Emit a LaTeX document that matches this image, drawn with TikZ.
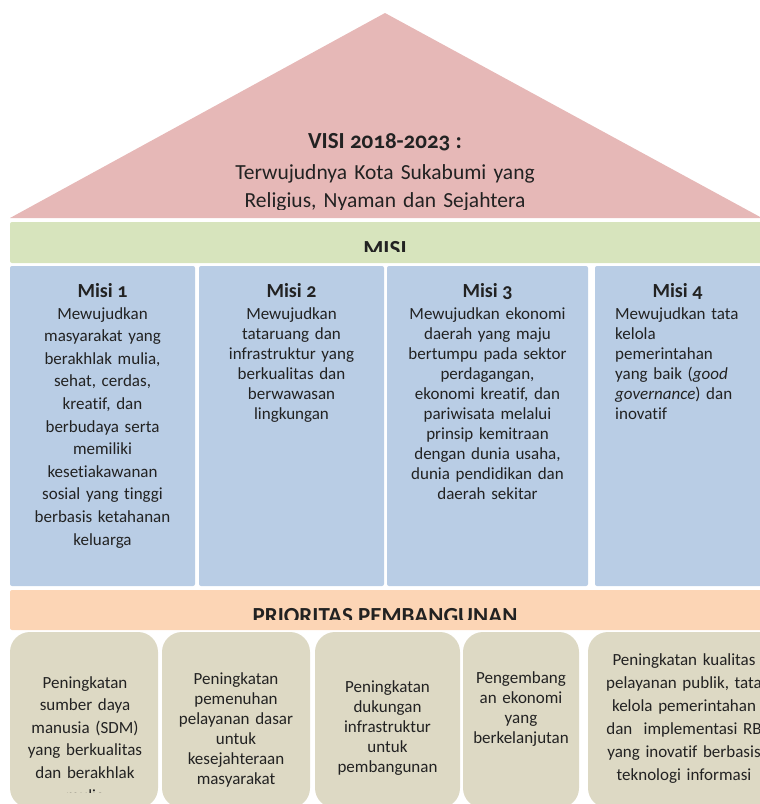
\documentclass[tikz,border=0pt]{standalone}
\usepackage{fontspec}
\setmainfont{Carlito}[Numbers=OldStyle, Ligatures=NoCommon]
\usetikzlibrary{positioning}
\definecolor{roof}{HTML}{E6B8B7}
\definecolor{misigreen}{HTML}{D7E4BD}
\definecolor{misiblue}{HTML}{B9CDE5}
\definecolor{priopeach}{HTML}{FCD5B5}
\definecolor{priotan}{HTML}{DDD9C4}
\definecolor{ink}{HTML}{222222}

\begin{document}
\begin{tikzpicture}[x=1pt, y=-1pt, text=ink,
  slab/.style={anchor=north west, inner sep=0, outer sep=0, rounded corners=2pt, minimum height=#1pt},
  misibox/.style={slab=320, fill=misiblue},
  priobox/.style={slab=176, fill=priotan, rounded corners=20pt},
  title/.style={font=\bfseries\fontsize{23}{27}\selectfont, anchor=base, inner sep=0},
  misihead/.style={font=\bfseries\fontsize{20}{24}\selectfont, anchor=base, inner sep=0},
  body/.style={font=\fontsize{17}{20}\selectfont, anchor=base, align=center, text width=220pt, inner sep=0},
  loose/.style={font=\fontsize{17}{22.6}\selectfont}]
  \useasboundingbox (0,0) rectangle (760,804);

  % roof with the vision
  \fill[roof] (10,218) -- (385,13) -- (762,218) -- cycle;
  \begin{scope}
    \clip (0,0) rectangle (760,209);
    \node[title] (visi) at (385,148) {VISI 2018-2023 :};
    \node[body, font=\fontsize{21.5}{28}\selectfont, text width=400pt] (visitext) at (385,179)
      {Terwujudnya Kota Sukabumi yang\\Religius, Nyaman dan Sejahtera};
  \end{scope}

  % mission band
  \node[slab=41, fill=misigreen, minimum width=755pt] (misiband) at (10,222) {};
  \begin{scope}
    \clip (0,222) rectangle (760,251);
    \node[title] (misilabel) at (385,256) {MISI};
  \end{scope}

  \node[misibox, minimum width=185pt] (m1) at (10,266) {};
  \node[misibox, minimum width=185pt] (m2) at (199,266) {};
  \node[misibox, minimum width=201pt] (m3) at (387,266) {};
  \node[misibox, minimum width=170pt] (m4) at (595,266) {};

  \node[misihead] (m1head) at (102.5,297) {Misi 1};
  \node[misihead] (m2head) at (291.5,297) {Misi 2};
  \node[misihead] (m3head) at (487.5,297) {Misi 3};
  \node[misihead] (m4head) at (677.5,297) {Misi 4};

  \node[body, loose] (m1text) at (102.5,319) {Mewujudkan\\masyarakat yang\\berakhlak mulia,\\sehat, cerdas,\\kreatif, dan\\berbudaya serta\\memiliki\\kesetiakawanan\\sosial yang tinggi\\berbasis ketahanan\\keluarga};
  \node[body] (m2text) at (291.5,319) {Mewujudkan\\tataruang dan\\infrastruktur yang\\berkualitas dan\\berwawasan\\lingkungan};
  \node[body] (m3text) at (487.5,319) {Mewujudkan ekonomi\\daerah yang maju\\bertumpu pada sektor\\perdagangan,\\ekonomi kreatif, dan\\pariwisata melalui\\prinsip kemitraan\\dengan dunia usaha,\\dunia pendidikan dan\\daerah sekitar};
  \node[body, align=left, text width=140pt, anchor=base west] (m4text) at (615,319) {Mewujudkan tata\\kelola\\pemerintahan\\yang baik (\textit{good}\\\textit{governance}) dan\\inovatif};

  % development priorities
  \node[slab=40, fill=priopeach, minimum width=755pt] (prioband) at (10,590) {};
  \begin{scope}
    \clip (0,590) rectangle (760,619);
    \node[title] (priolabel) at (385,623) {PRIORITAS PEMBANGUNAN};
  \end{scope}

  \node[priobox, minimum width=148pt] (p1) at (10,632) {};
  \node[priobox, minimum width=148pt] (p2) at (162,632) {};
  \node[priobox, minimum width=145pt] (p3) at (315,632) {};
  \node[priobox, minimum width=116pt] (p4) at (463,632) {};
  \node[priobox, minimum width=192pt] (p5) at (588,632) {};

  \begin{scope}
    \clip (0,632) rectangle (760,792);
    \node[body, loose] (p1text) at (85,688) {Peningkatan\\sumber daya\\manusia (SDM)\\yang berkualitas\\dan berakhlak\\mulia};
  \end{scope}
  \node[body] (p2text) at (236,684) {Peningkatan\\pemenuhan\\pelayanan dasar\\untuk\\kesejahteraan\\masyarakat};
  \node[body] (p3text) at (387.5,692) {Peningkatan\\dukungan\\infrastruktur\\untuk\\pembangunan};
  \node[body] (p4text) at (521,683) {Pengembang\\an ekonomi\\yang\\berkelanjutan};
  \node[body, font=\fontsize{17}{23}\selectfont] (p5text) at (684,665) {Peningkatan kualitas\\pelayanan publik, tata\\kelola pemerintahan\\dan~ implementasi RB\\yang inovatif berbasis\\teknologi informasi};
\end{tikzpicture}
\end{document}
